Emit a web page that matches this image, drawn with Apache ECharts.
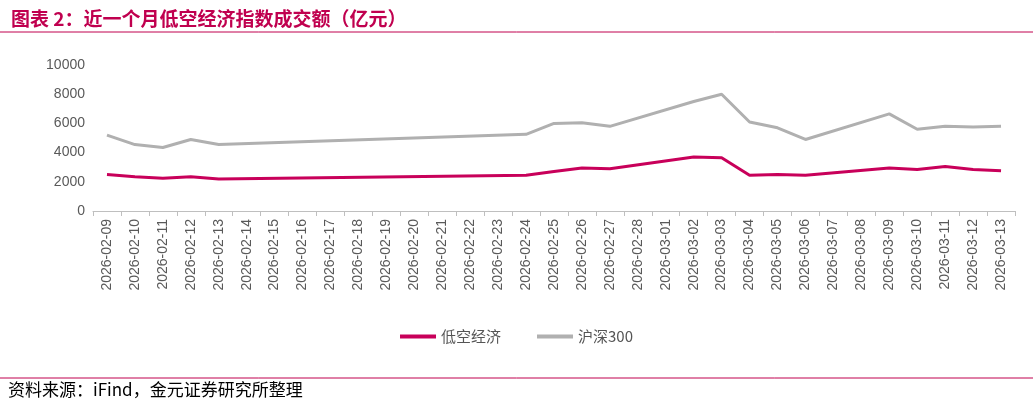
<!DOCTYPE html>
<html><head><meta charset="utf-8">
<script src="https://cdn.jsdelivr.net/npm/echarts@6/dist/echarts.min.js"></script>
<style>body{margin:0;background:#fff}#c{width:1033px;height:409px}</style></head>
<body><div id="c"></div>
<script>
const categories=['2026-02-09','2026-02-10','2026-02-11','2026-02-12','2026-02-13','2026-02-14','2026-02-15','2026-02-16','2026-02-17','2026-02-18','2026-02-19','2026-02-20','2026-02-21','2026-02-22','2026-02-23','2026-02-24','2026-02-25','2026-02-26','2026-02-27','2026-02-28','2026-03-01','2026-03-02','2026-03-03','2026-03-04','2026-03-05','2026-03-06','2026-03-07','2026-03-08','2026-03-09','2026-03-10','2026-03-11','2026-03-12','2026-03-13'];
const lowAlt=[2500,2350,2250,2350,2200,null,null,null,null,null,null,null,null,null,null,2450,2700,2950,2900,null,null,3700,3650,2450,2500,2450,null,null,2950,2850,3050,2850,2750];
const hs300=[5200,4550,4350,4900,4550,null,null,null,null,null,null,null,null,null,null,5250,6000,6050,5800,null,null,7500,8000,6100,5700,4900,null,null,6650,5600,5800,5750,5800];
const ch=echarts.init(document.getElementById('c'));
ch.setOption({
animation:false,
title:{text:'图表 2：近一个月低空经济指数成交额（亿元）',left:6,top:4,textStyle:{color:'#C0004F',fontSize:19,fontWeight:'bold',fontFamily:'Noto Sans CJK SC'}},
graphic:[
{type:'line',shape:{x1:0,y1:32,x2:1033,y2:32},style:{stroke:'#C0004F',lineWidth:1}},
{type:'line',shape:{x1:0,y1:378,x2:1033,y2:378},style:{stroke:'#C0004F',lineWidth:1}},
{type:'text',left:8,top:381,style:{text:'资料来源：iFind，金元证券研究所整理',fill:'#000',fontSize:17,fontFamily:'Noto Sans CJK SC'}}
],
legend:{bottom:60,left:'center',itemWidth:36,itemGap:36,textStyle:{fontSize:15,color:'#555',fontFamily:'Noto Sans CJK SC'},data:[{name:'低空经济',icon:'rect'},{name:'沪深300',icon:'rect'}],itemHeight:4},
grid:{left:93,right:18,top:65,bottom:198},
xAxis:{type:'category',data:categories,boundaryGap:true,axisLine:{lineStyle:{color:'#bfbfbf'}},axisTick:{show:true,interval:0,lineStyle:{color:'#bfbfbf'}},axisLabel:{interval:0,rotate:90,color:'#595959',fontSize:14}},
yAxis:{type:'value',min:0,max:10000,interval:2000,splitLine:{show:false},axisLine:{show:false},axisLabel:{color:'#595959',fontSize:14,formatter:v=>String(v)}},
series:[
{name:'低空经济',type:'line',data:lowAlt,connectNulls:true,showSymbol:false,symbol:'none',lineStyle:{color:'#C8005A',width:3},itemStyle:{color:'#C8005A'}},
{name:'沪深300',type:'line',data:hs300,connectNulls:true,showSymbol:false,symbol:'none',lineStyle:{color:'#B0B0B0',width:3},itemStyle:{color:'#B0B0B0'}}
]});
</script></body></html>
